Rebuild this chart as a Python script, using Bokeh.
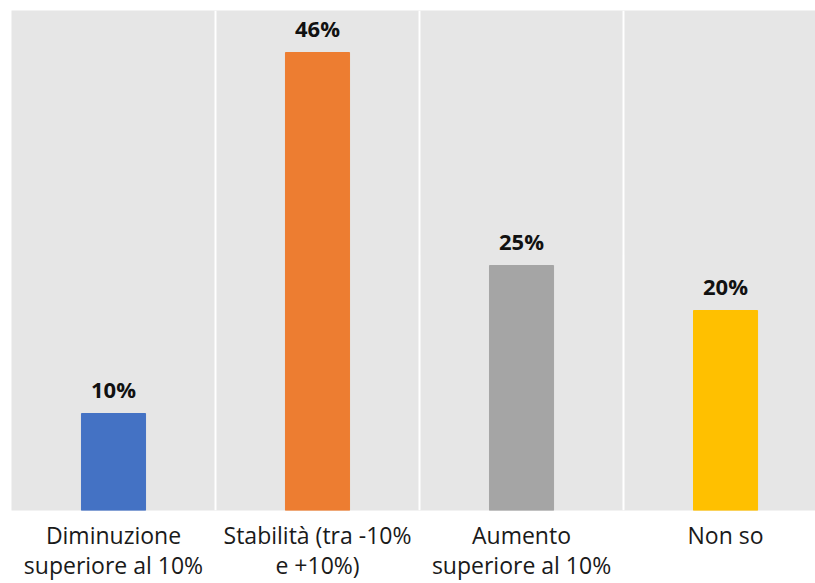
from bokeh.plotting import figure
from bokeh.models import ColumnDataSource, Range1d, FixedTicker, LabelSet
from bokeh.core.properties import value
from bokeh.embed import file_html
from bokeh.resources import INLINE

categories = ["Diminuzione\nsuperiore al 10%", "Stabilità (tra -10%\ne +10%)",
              "Aumento\nsuperiore al 10%", "Non so"]
values = [9.7, 45.8, 24.5, 20.0]
value_labels = ["10%", "46%", "25%", "20%"]
colors = ["#4472C4", "#ED7D31", "#A5A5A5", "#FFC000"]

positions = [i + 0.5 for i in range(len(categories))]

src = ColumnDataSource(dict(x=positions, top=values, lab=value_labels, color=colors))

p = figure(width=815, height=583, output_backend="svg", toolbar_location=None,
           x_range=Range1d(0, 3.941), y_range=Range1d(0, 50),
           min_border_left=11, min_border_right=0, min_border_top=10, min_border_bottom=0)
p.background_fill_color = "#E6E6E6"
p.border_fill_color = "white"
p.outline_line_color = None

p.vbar(x="x", top="top", bottom=0, width=0.314, color="color", source=src)

labels = LabelSet(x="x", y="top", text="lab", source=src, text_align="center",
                  text_baseline="alphabetic", y_offset=16,
                  text_font=value("Open Sans"), text_font_style="bold",
                  text_font_size="22px", text_color="#111111")
p.add_layout(labels)

p.yaxis.visible = False
p.ygrid.grid_line_color = None

p.xaxis.ticker = FixedTicker(ticks=positions)
p.xaxis.major_label_overrides = {pos: c for pos, c in zip(positions, categories)}
p.xaxis.axis_line_color = None
p.xaxis.major_tick_line_color = None
p.xaxis.minor_tick_line_color = None
p.xaxis.major_label_text_font = "Open Sans"
p.xaxis.major_label_text_font_size = "23px"
p.xaxis.major_label_text_color = "#1a1a1a"
p.xaxis.major_label_standoff = 2
p.xaxis.major_label_text_line_height = 0.94

p.xgrid.ticker = FixedTicker(ticks=[1, 2, 3])
p.xgrid.grid_line_color = "white"
p.xgrid.grid_line_width = 2

open("out.html", "w").write(file_html(p, INLINE))
